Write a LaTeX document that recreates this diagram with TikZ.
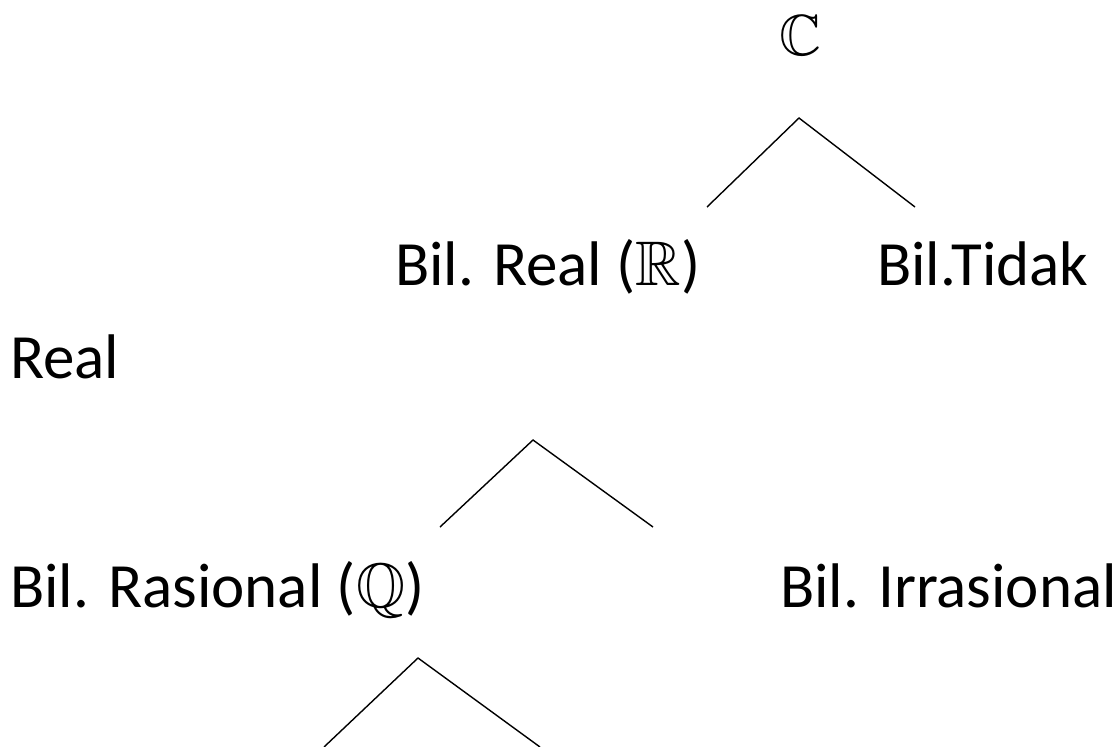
\documentclass[tikz,border=0pt]{standalone}
\usepackage{amssymb}
\usepackage{fontspec}
\setmainfont{Carlito}
\begin{document}
\begin{tikzpicture}[x=1pt,y=-1pt,
  lbl/.style={anchor=base west,inner sep=0pt,font=\fontsize{63}{76}\selectfont},
  branch/.style={line width=1.4pt,black}]
\useasboundingbox (0,0) rectangle (1117,747);
\node[lbl,font=\fontsize{58}{70}\selectfont] (C) at (779,55) {$\mathbb{C}$};
\node[lbl] (R) at (395,285) {Bil. Real ($\mathbb{R}$)};
\node[lbl] (T1) at (877,285) {Bil.Tidak};
\node[lbl] (T2) at (10,378) {Real};
\node[lbl] (Q) at (10,607) {Bil. Rasional ($\mathbb{Q}$)};
\node[lbl] (I) at (780,607) {Bil. Irrasional};
\coordinate (a0) at (799,118);
\coordinate (a1) at (707,207);
\coordinate (a2) at (915,207);
\coordinate (b0) at (533,440);
\coordinate (b1) at (440,527);
\coordinate (b2) at (653,527);
\coordinate (c0) at (418,658);
\coordinate (c1) at (324,747);
\coordinate (c2) at (540,747);
\draw[branch] (a1) -- (a0) -- (a2);
\draw[branch] (b1) -- (b0) -- (b2);
\draw[branch] (c1) -- (c0) -- (c2);
\end{tikzpicture}
\end{document}
